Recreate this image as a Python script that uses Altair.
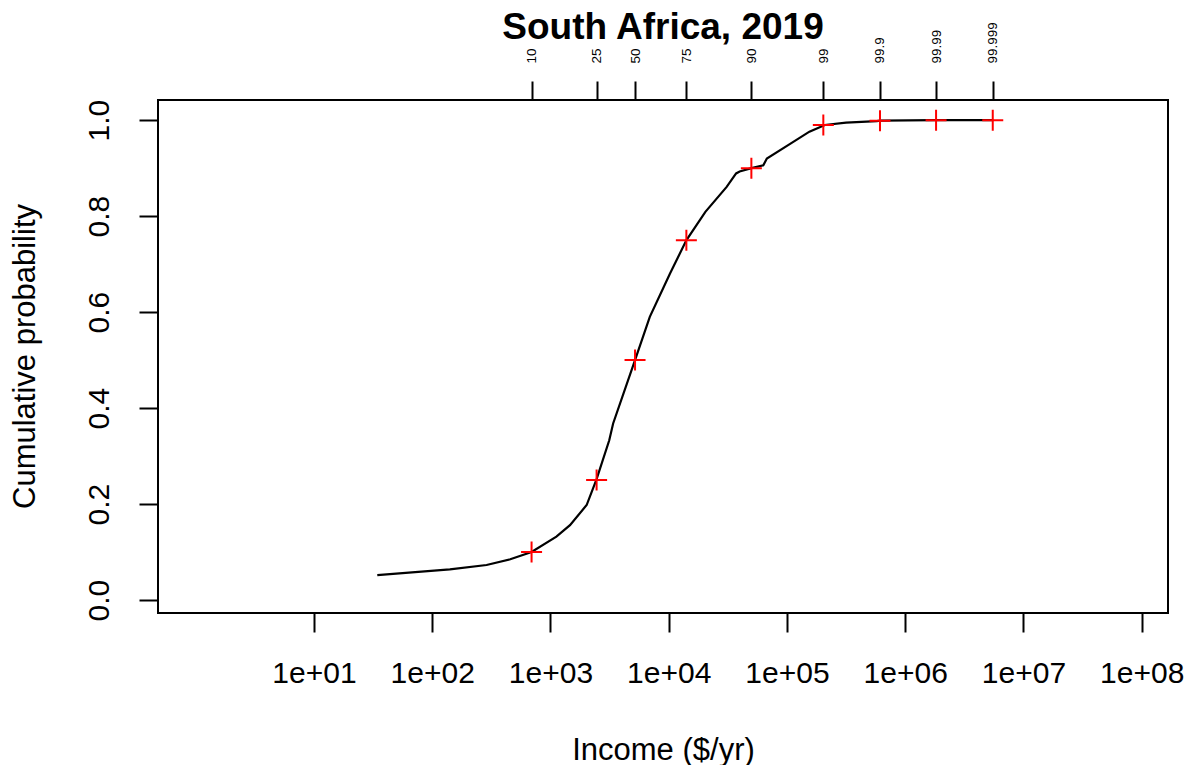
import altair as alt
import pandas as pd

# Cumulative distribution curve (income $/yr, cumulative probability)
curve_income = [34.3, 141, 288, 457, 692, 1122, 1462, 2023, 2455, 3141, 3388,
                 5188, 6918, 10233, 14125, 20417, 30903, 37154, 39810, 50119,
                 63096, 67608, 107152, 154882, 208930, 316228, 575440, 612000,
                 1820000, 5500000]
curve_prob = [0.052, 0.064, 0.073, 0.085, 0.100, 0.132, 0.156, 0.198, 0.252,
              0.333, 0.368, 0.500, 0.590, 0.680, 0.750, 0.809, 0.861, 0.889,
              0.893, 0.900, 0.906, 0.920, 0.951, 0.976, 0.990, 0.995, 0.998,
              0.999, 0.9999, 0.99999]

# Percentile markers
pct_labels = ["10", "25", "50", "75", "90", "99", "99.9", "99.99", "99.999"]
pct_prob = [0.10, 0.25, 0.50, 0.75, 0.90, 0.99, 0.999, 0.9999, 0.99999]
pct_income = [692, 2455, 5190, 14100, 50000, 203000, 612000, 1824000, 5500000]

x_ticks = [1e1, 1e2, 1e3, 1e4, 1e5, 1e6, 1e7, 1e8]
y_ticks = [0.0, 0.2, 0.4, 0.6, 0.8, 1.0]
x_domain = [0.4795, 1.669e8]
y_domain = [-0.027, 1.042]

curve_df = pd.DataFrame({"income": curve_income, "prob": curve_prob})
pct_df = pd.DataFrame({"income": pct_income, "prob": pct_prob, "label": pct_labels})

FONT = "Liberation Sans"

label_expr = " : ".join(
    f"datum.value == {v} ? '{l}'" for v, l in zip(pct_income, pct_labels)
) + " : ''"

xscale = alt.Scale(type="log", domain=x_domain, nice=False)
yscale = alt.Scale(domain=y_domain, nice=False, zero=False)

line = alt.Chart(curve_df).mark_line(color="black", strokeWidth=2.2).encode(
    x=alt.X("income:Q", scale=xscale,
            axis=alt.Axis(orient="bottom", values=x_ticks, title="Income ($/yr)",
                          labelExpr="'1e+0' + round(log(datum.value)/LN10)",
                          grid=False, domain=False, tickSize=19, tickWidth=2,
                          tickColor="black", labelFontSize=30, labelFont=FONT,
                          labelColor="black", labelAngle=0, labelAlign="center",
                          labelBaseline="alphabetic", labelPadding=50,
                          labelOverlap=False, labelFlush=False,
                          titleFont=FONT, titleFontSize=31, titleFontWeight="normal",
                          titleColor="black", titleBaseline="alphabetic",
                          titleY=146, titleAlign="center")),
    y=alt.Y("prob:Q", scale=yscale,
            axis=alt.Axis(values=y_ticks, format=".1f", title="Cumulative probability",
                          grid=False, domain=False, tickSize=19, tickWidth=2,
                          tickColor="black", labelFontSize=30, labelFont=FONT,
                          labelColor="black", labelAngle=270, labelAlign="center",
                          labelBaseline="alphabetic", labelPadding=31,
                          labelOverlap=False, labelFlush=False,
                          titleFont=FONT, titleFontSize=31, titleFontWeight="normal",
                          titleColor="black", titleAngle=270, titleAlign="center",
                          titleBaseline="alphabetic", titleX=-124, titleY=256)),
)

points = alt.Chart(pct_df).mark_point(
    shape="M-1,0L1,0M0,-1L0,1", size=441, color="red", filled=False, strokeWidth=2, opacity=1
).encode(
    x=alt.X("income:Q", scale=xscale,
            axis=alt.Axis(orient="top", values=pct_income, labelExpr=label_expr,
                          title=None, grid=False, domain=False, tickSize=19,
                          tickWidth=2, tickColor="black", labelFontSize=13.5,
                          labelFont=FONT, labelColor="black", labelAngle=270,
                          labelAlign="left", labelBaseline="middle",
                          labelPadding=18, labelOverlap=False, labelFlush=False)),
    y=alt.Y("prob:Q", scale=yscale),
)

chart = alt.layer(line, points).resolve_axis(x="independent").properties(
    width=1010,
    height=513,
    title=alt.TitleParams("South Africa, 2019", font=FONT, fontSize=37,
                          fontWeight="bold", color="black", anchor="middle",
                          frame="group", baseline="alphabetic", offset=0, dy=54),
    autosize=alt.AutoSizeParams(type="none"),
    padding={"left": 150, "top": 92, "right": 17, "bottom": 152},
).configure(background="white").configure_view(stroke="black", strokeWidth=2)

chart.save("out.html", embed_options={"renderer": "svg", "actions": False})
